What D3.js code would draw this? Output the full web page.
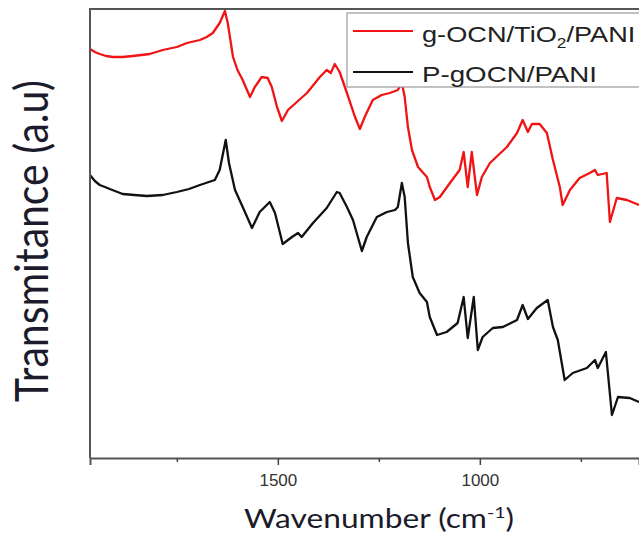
<!DOCTYPE html>
<html>
<head>
<meta charset="utf-8">
<script src="https://cdn.jsdelivr.net/npm/d3@7"></script>
<style>
  body { margin: 0; background: #fff; }
  svg { display: block; }
</style>
</head>
<body>
<svg id="ftir"></svg>
<script>
// FTIR spectra, values: [wavenumber (cm-1), transmittance (a.u)]
const gocnTio2Pani = [
  [1965, 409], [1953, 406], [1941, 404], [1925, 402], [1908, 401], [1884, 401],
  [1859, 402], [1817, 404], [1785, 408], [1750, 411], [1725, 415], [1693, 418],
  [1676, 421], [1661, 425], [1644, 435], [1631, 447], [1624, 435], [1611, 401],
  [1600, 388], [1587, 378], [1569, 361], [1557, 371], [1540, 381], [1525, 380],
  [1515, 371], [1502, 351], [1490, 337], [1475, 348], [1453, 356], [1428, 365],
  [1396, 381], [1379, 388], [1369, 385], [1359, 394], [1347, 386], [1329, 365],
  [1309, 341], [1297, 329], [1285, 341], [1265, 358], [1243, 363], [1223, 365],
  [1203, 368], [1193, 375], [1186, 361], [1178, 331], [1168, 308], [1153, 291],
  [1131, 281], [1124, 271], [1111, 258], [1099, 261], [1074, 275], [1050, 288],
  [1040, 306], [1030, 271], [1020, 306], [1007, 263], [995, 281], [975, 295],
  [933, 311], [908, 325], [894, 338], [881, 326], [871, 334], [852, 334],
  [834, 325], [819, 298], [802, 271], [795, 253], [777, 268], [753, 280],
  [728, 285], [715, 288], [708, 283], [686, 285], [678, 236], [661, 260],
  [636, 258], [606, 253]
];

const pgocnPani = [
  [1965, 283], [1953, 277], [1941, 273], [1928, 271], [1916, 269], [1884, 264],
  [1855, 263], [1824, 262], [1785, 263], [1750, 266], [1720, 269], [1693, 273],
  [1656, 278], [1644, 288], [1629, 318], [1621, 295], [1606, 268], [1587, 251],
  [1564, 230], [1545, 246], [1520, 256], [1507, 245], [1488, 214], [1465, 221],
  [1450, 225], [1441, 221], [1413, 235], [1379, 250], [1354, 266], [1347, 265],
  [1329, 251], [1314, 238], [1292, 207], [1280, 221], [1255, 241], [1230, 246],
  [1210, 248], [1203, 251], [1193, 275], [1186, 261], [1178, 215], [1166, 181],
  [1149, 165], [1131, 156], [1124, 141], [1106, 123], [1082, 126], [1055, 135],
  [1040, 161], [1030, 120], [1015, 161], [1005, 108], [993, 121], [968, 130],
  [943, 131], [908, 138], [894, 153], [881, 139], [859, 150], [832, 158],
  [819, 131], [807, 118], [790, 78], [770, 85], [735, 90], [715, 98],
  [708, 90], [688, 106], [673, 43], [658, 61], [629, 60], [606, 56]
];

const majorTicks = [1500, 1000];
const minorTicks = [1750, 1250, 750];
const seriesNames = ["g-OCN/TiO", "P-gOCN/PANI"];
const seriesColors = ["#f01414", "#111"];

const W = 639, H = 537;
const plotLeft = 90, plotTop = 9, plotBottom = 458, plotRight = 639;

const svg = d3.select("#ftir")
  .attr("width", W)
  .attr("height", H);

const x = d3.scaleLinear()
  .domain([1965, 606])
  .range([plotLeft, plotRight]);

const y = d3.scaleLinear()
  .domain([0, 449])
  .range([plotBottom, plotTop]);

const line = d3.line()
  .x(d => x(d[0]))
  .y(d => y(d[1]));

// curves
svg.append("path")
  .datum(pgocnPani)
  .attr("d", line)
  .attr("fill", "none")
  .attr("stroke", seriesColors[1])
  .attr("stroke-width", 2.3)
  .attr("stroke-linejoin", "round");

svg.append("path")
  .datum(gocnTio2Pani)
  .attr("d", line)
  .attr("fill", "none")
  .attr("stroke", seriesColors[0])
  .attr("stroke-width", 2.3)
  .attr("stroke-linejoin", "round");

// frame (right side is cut off in the picture)
svg.append("path")
  .attr("d", "M" + plotRight + "," + plotTop + "H" + plotLeft + "V" + plotBottom)
  .attr("fill", "none")
  .attr("stroke", "#555")
  .attr("stroke-width", 2);

// x axis
const xAxis = svg.append("g")
  .attr("transform", "translate(0," + plotBottom + ")")
  .call(d3.axisBottom(x).tickValues(majorTicks).tickSize(7).tickPadding(9).tickFormat(d3.format("d")));

xAxis.select(".domain").attr("stroke", "#555").attr("stroke-width", 2);
xAxis.selectAll(".tick line").attr("stroke", "#444").attr("stroke-width", 1.5);
xAxis.selectAll(".tick text")
  .attr("fill", "#333")
  .style("font-family", "'Liberation Sans', Arial, sans-serif")
  .style("font-size", "17px");

svg.append("g")
  .attr("transform", "translate(0," + plotBottom + ")")
  .call(d3.axisBottom(x).tickValues(minorTicks).tickSize(4).tickFormat(""))
  .call(g => g.select(".domain").remove())
  .selectAll(".tick line").attr("stroke", "#444").attr("stroke-width", 1.5);

// axis titles
const xTitle = svg.append("text")
  .attr("transform", "translate(379,528) scale(1.22,1)")
  .attr("text-anchor", "middle")
  .attr("fill", "#1b1b2b")
  .style("font-family", "Lato, 'Open Sans', sans-serif")
  .style("font-size", "26px");
xTitle.append("tspan").text("Wavenumber (cm");
xTitle.append("tspan").attr("dy", -10).style("font-size", "16px").text("-1");
xTitle.append("tspan").attr("dy", 10).text(")");

svg.append("text")
  .attr("transform", "translate(48,241) scale(1.15,1) rotate(-90)")
  .attr("text-anchor", "middle")
  .attr("fill", "#1b1b2b")
  .style("font-family", "Lato, 'Open Sans', sans-serif")
  .style("font-size", "41px")
  .text("Transmitance (a.u)");

// legend
const legend = svg.append("g");
legend.append("rect")
  .attr("x", 347).attr("y", 13)
  .attr("width", 320).attr("height", 74)
  .attr("fill", "#fff")
  .attr("stroke", "#999")
  .attr("stroke-width", 1.2);

const rows = [31, 72];
rows.forEach((ry, i) => {
  legend.append("line")
    .attr("x1", 353).attr("x2", 413)
    .attr("y1", ry).attr("y2", ry)
    .attr("stroke", seriesColors[i])
    .attr("stroke-width", 2.2);
});

const legendFont = "'Liberation Sans', Arial, sans-serif";
const l1 = legend.append("text")
  .attr("transform", "translate(422,42) scale(1.235,1)")
  .attr("fill", "#222")
  .style("font-family", legendFont)
  .style("font-size", "22px");
l1.append("tspan").text(seriesNames[0]);
l1.append("tspan").attr("dy", 6).style("font-size", "14px").text("2");
l1.append("tspan").attr("dy", -6).text("/PANI");

legend.append("text")
  .attr("transform", "translate(422,82) scale(1.26,1)")
  .attr("fill", "#222")
  .style("font-family", legendFont)
  .style("font-size", "22px")
  .text(seriesNames[1]);
</script>
</body>
</html>
